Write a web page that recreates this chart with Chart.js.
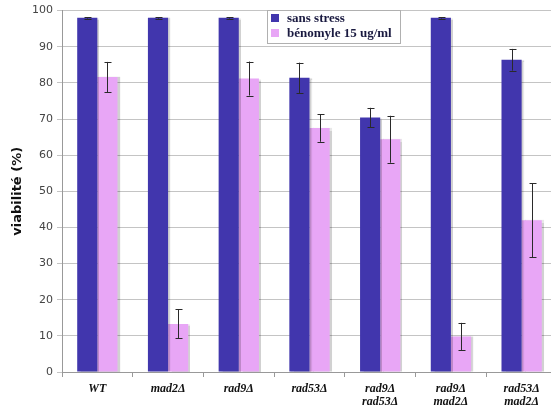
<!DOCTYPE html>
<html>
<head>
<meta charset="utf-8">
<script src="https://cdn.jsdelivr.net/npm/chart.js@4/dist/chart.umd.min.js"></script>
<style>
  html, body { margin: 0; padding: 0; background: #fff; overflow: hidden; }
  #wrap { width: 551px; height: 411px; overflow: hidden; position: relative; }
  canvas { display: block; }
</style>
</head>
<body>
<div id="wrap"><canvas id="c" width="558" height="411"></canvas></div>
<script>
// Souches testées
const souches = [
  ['WT'], ['mad2Δ'], ['rad9Δ'], ['rad53Δ'],
  ['rad9Δ', 'rad53Δ'], ['rad9Δ', 'mad2Δ'], ['rad53Δ', 'mad2Δ']
];
// Viabilité (%) sans stress, et écart-type
const sansStress    = [98, 98, 98, 81.4, 70.4, 98, 86.4];
const errSansStress = [0.2, 0.2, 0.2, 4.2, 2.7, 0.2, 3.0];
// Viabilité (%) avec bénomyle 15 ug/ml, et écart-type
const benomyle      = [81.6, 13.3, 81.2, 67.5, 64.4, 9.8, 42.0];
const errBenomyle   = [4.2, 4.0, 4.7, 3.8, 6.5, 3.8, 10.2];
// Graduations de l'axe des viabilités
const yTicks = [0, 10, 20, 30, 40, 50, 60, 70, 80, 90, 100];

const COL_DARK = '#4136ad';
const COL_PINK = '#e8a6f6';
const erreurs = [errSansStress, errBenomyle];

// Ombre portée grise à droite des barres
const ombre = {
  id: 'ombre',
  beforeDatasetsDraw(chart) {
    const ctx = chart.ctx;
    ctx.save();
    ctx.shadowColor = 'rgba(0,0,0,0.18)';
    ctx.shadowOffsetX = 2;
    ctx.shadowOffsetY = 0;
    ctx.shadowBlur = 1;
  },
  afterDatasetsDraw(chart) {
    chart.ctx.restore();
  }
};

// Barres d'erreur
const barresErreur = {
  id: 'barresErreur',
  afterDatasetsDraw(chart) {
    const ctx = chart.ctx;
    const y = chart.scales.y;
    ctx.save();
    ctx.strokeStyle = '#2a2a2a';
    ctx.lineWidth = 1;
    chart.data.datasets.forEach((ds, i) => {
      const meta = chart.getDatasetMeta(i);
      meta.data.forEach((bar, j) => {
        const v = ds.data[j], e = erreurs[i][j];
        const x = Math.round(bar.x) + 0.5;
        const yt = y.getPixelForValue(v + e);
        const yb = y.getPixelForValue(v - e);
        ctx.beginPath();
        ctx.moveTo(x, yt); ctx.lineTo(x, yb);
        ctx.moveTo(x - 3, Math.round(yt) + 0.5); ctx.lineTo(x + 4, Math.round(yt) + 0.5);
        ctx.moveTo(x - 3, Math.round(yb) + 0.5); ctx.lineTo(x + 4, Math.round(yb) + 0.5);
        ctx.stroke();
      });
    });
    ctx.restore();
  }
};

// Légende encadrée dans la zone du graphique
const legendeEncadree = {
  id: 'legendeEncadree',
  afterDraw(chart) {
    const ctx = chart.ctx;
    const x0 = 267.5, y0 = 10.5, w = 133, h = 33;
    ctx.save();
    ctx.fillStyle = '#fff';
    ctx.fillRect(x0, y0, w, h);
    ctx.strokeStyle = '#b0b0b0';
    ctx.lineWidth = 1;
    ctx.strokeRect(x0, y0, w, h);
    ctx.font = 'bold 13px "Liberation Serif", "DejaVu Serif", serif';
    ctx.textBaseline = 'middle';
    chart.data.datasets.forEach((ds, i) => {
      const cy = 18 + i * 15;
      ctx.fillStyle = ds.backgroundColor;
      ctx.fillRect(271, cy - 4, 8, 8);
      ctx.fillStyle = '#1a1a40';
      ctx.fillText(ds.label, 287, cy + 0.5);
    });
    ctx.restore();
  }
};

new Chart(document.getElementById('c'), {
  type: 'bar',
  data: {
    labels: souches,
    datasets: [
      { label: 'sans stress', data: sansStress, backgroundColor: COL_DARK },
      { label: 'bénomyle 15 ug/ml', data: benomyle, backgroundColor: COL_PINK }
    ]
  },
  options: {
    responsive: false,
    animation: false,
    events: [],
    layout: { padding: { top: 10, right: 1, left: 0, bottom: 0 } },
    datasets: { bar: { categoryPercentage: 0.57, barPercentage: 1.0 } },
    plugins: { legend: { display: false }, tooltip: { enabled: false } },
    scales: {
      x: {
        grid: { drawOnChartArea: false, drawTicks: true, tickLength: 5, color: '#999', offset: true },
        border: { color: '#999' },
        ticks: {
          color: '#111',
          padding: 5,
          maxRotation: 0,
          autoSkip: false,
          font: { family: '"Liberation Serif", "DejaVu Serif", serif', size: 12, style: 'italic', weight: 'bold', lineHeight: 1.1 }
        },
        afterFit(scale) { scale.height = 39; }
      },
      y: {
        min: 0, max: 100,
        afterBuildTicks(scale) { scale.ticks = yTicks.map(v => ({ value: v })); },
        grid: { color: '#c4c4c4', tickLength: 5, drawTicks: true },
        border: { color: '#999' },
        ticks: {
          color: '#444',
          padding: 4,
          font: { family: '"DejaVu Sans", sans-serif', size: 11 }
        },
        title: {
          display: true,
          text: 'viabilité (%)',
          color: '#111',
          padding: { top: 10, bottom: 0 },
          font: { family: '"DejaVu Sans", sans-serif', size: 13, weight: 'bold' }
        },
        afterFit(scale) { scale.width = 62; }
      }
    }
  },
  plugins: [ombre, barresErreur, legendeEncadree]
});
</script>
</body>
</html>
